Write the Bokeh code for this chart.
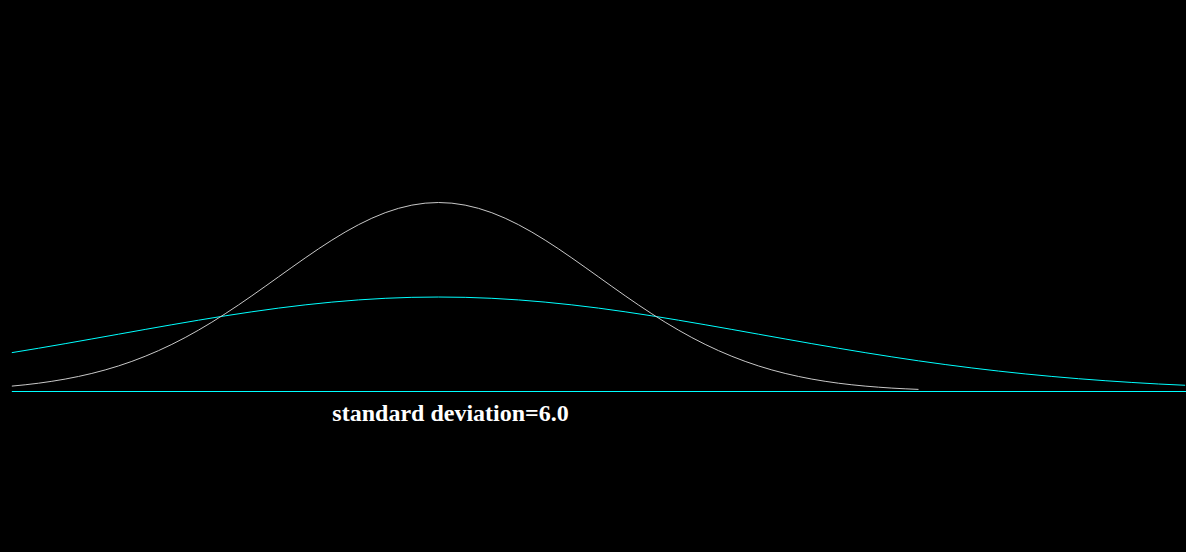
from bokeh.plotting import figure
from bokeh.embed import file_html
from bokeh.resources import INLINE
from bokeh.core.properties import value

# Narrow curve (standard deviation 6.0), x step 0.5
x_narrow = [-16, -15.5, -15, -14.5, -14, -13.5, -13, -12.5, -12, -11.5, -11,
            -10.5, -10, -9.5, -9, -8.5, -8, -7.5, -7, -6.5, -6, -5.5, -5,
            -4.5, -4, -3.5, -3, -2.5, -2, -1.5, -1, -0.5, 0, 0.5, 1, 1.5, 2,
            2.5, 3, 3.5, 4, 4.5, 5, 5.5, 6, 6.5, 7, 7.5, 8, 8.5, 9, 9.5, 10,
            10.5, 11, 11.5, 12, 12.5, 13, 13.5, 14, 14.5, 15, 15.5, 16, 16.5,
            17, 17.5, 18]
y_narrow = [0.00190, 0.00236, 0.00292, 0.00359, 0.00437, 0.00529, 0.00636,
            0.00759, 0.00900, 0.01059, 0.01239, 0.01438, 0.01658, 0.01898,
            0.02159, 0.02438, 0.02734, 0.03044, 0.03367, 0.03698, 0.04033,
            0.04368, 0.04698, 0.05019, 0.05324, 0.05609, 0.05868, 0.06096,
            0.06290, 0.06444, 0.06557, 0.06626, 0.06649, 0.06626, 0.06557,
            0.06444, 0.06290, 0.06096, 0.05868, 0.05609, 0.05324, 0.05019,
            0.04698, 0.04368, 0.04033, 0.03698, 0.03367, 0.03044, 0.02734,
            0.02438, 0.02159, 0.01898, 0.01658, 0.01438, 0.01239, 0.01059,
            0.00900, 0.00759, 0.00636, 0.00529, 0.00437, 0.00359, 0.00292,
            0.00236, 0.00190, 0.00152, 0.00120, 0.00095, 0.00074]

# Wide curve (cyan)
x_wide = list(range(-16, 29))
y_wide = [0.01367, 0.01522, 0.01683, 0.01849, 0.02016, 0.02184, 0.02349,
          0.02509, 0.02662, 0.02804, 0.02934, 0.03048, 0.03145, 0.03222,
          0.03279, 0.03313, 0.03324, 0.03313, 0.03279, 0.03222, 0.03145,
          0.03048, 0.02934, 0.02804, 0.02662, 0.02509, 0.02349, 0.02184,
          0.02016, 0.01849, 0.01683, 0.01522, 0.01367, 0.01219, 0.01079,
          0.00949, 0.00829, 0.00719, 0.00619, 0.00530, 0.00450, 0.00380,
          0.00318, 0.00264, 0.00219]

baseline_x = [-16, 28.05]
baseline_y = [0, 0]

label_text = ["standard deviation=6.0"]
label_x = [-3.98]
label_y = [-0.0074]

p = figure(width=1186, height=552,
           x_range=(-16.425, 28.05), y_range=(-0.05664, 0.13756),
           background_fill_color="black", border_fill_color="black",
           outline_line_color=None, min_border=0,
           toolbar_location=None, output_backend="svg")
p.axis.visible = False
p.grid.visible = False

p.line(baseline_x, baseline_y, line_color="#00ffff", line_width=1)
p.line(x_wide, y_wide, line_color="#00ffff", line_width=1)
p.line(x_narrow, y_narrow, line_color="#c8c8c8", line_width=1)

p.text(x=label_x, y=label_y, text=label_text,
       text_font=value("Liberation Serif"), text_font_style="bold",
       text_font_size="24px", text_color="white",
       text_align="left", text_baseline="alphabetic")

html = file_html(p, INLINE)
html = html.replace("<head>", "<head><style>html,body{background:#000;}</style>", 1)
open("out.html", "w").write(html)
